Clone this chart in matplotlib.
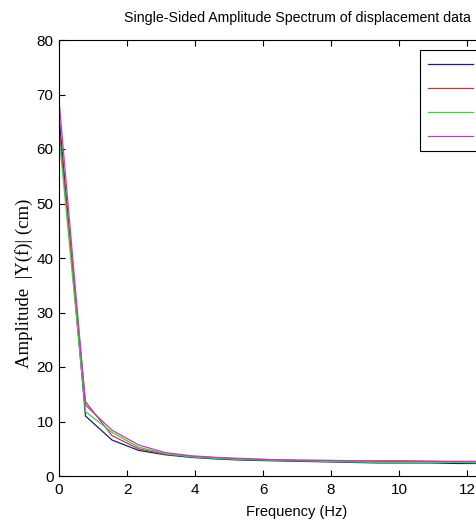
"""
Single-sided amplitude spectrum of the displacement records.
"""

import matplotlib
matplotlib.use("Agg")
import matplotlib.pyplot as plt


# -------------------------------------------------------
# Spectrum data
# -------------------------------------------------------

freq = [0.0, 0.78, 1.56, 2.34, 3.12, 3.91, 4.69, 5.47, 6.25, 7.03,
        7.81, 8.59, 9.38, 10.16, 10.94, 11.72, 12.50, 13.28, 14.06]

amp_1 = [66.0, 11.0, 6.6, 4.7, 3.9, 3.4, 3.1, 2.9, 2.8, 2.7,
         2.6, 2.5, 2.4, 2.4, 2.4, 2.3, 2.3, 2.3, 2.3]
amp_2 = [64.0, 13.6, 7.4, 5.0, 4.0, 3.6, 3.3, 3.1, 3.0, 2.9,
         2.8, 2.8, 2.7, 2.7, 2.7, 2.6, 2.6, 2.6, 2.6]
amp_3 = [62.5, 11.8, 8.0, 5.3, 4.1, 3.5, 3.2, 3.0, 2.9, 2.8,
         2.7, 2.6, 2.5, 2.5, 2.5, 2.5, 2.4, 2.4, 2.4]
amp_4 = [69.0, 13.0, 8.4, 5.7, 4.3, 3.7, 3.4, 3.2, 3.0, 2.9,
         2.9, 2.8, 2.8, 2.8, 2.7, 2.7, 2.7, 2.7, 2.7]

series_labels = ["Record 1", "Record 2", "Record 3", "Record 4"]
series_colors = ["#1c1c7a", "#c03a3a", "#3fd23f", "#c23cc2"]

x_ticks = [0, 2, 4, 6, 8, 10, 12]
y_ticks = [0, 10, 20, 30, 40, 50, 60, 70, 80]


# -------------------------------------------------------
# Plot
# -------------------------------------------------------

plt.rcParams["font.family"] = ["Liberation Sans", "DejaVu Sans"]

fig = plt.figure(figsize=(4.76, 5.22), dpi=100)
ax = fig.add_axes([59 / 476, 46 / 522, 476 / 476, 436 / 522])

for amp, label, color in zip([amp_1, amp_2, amp_3, amp_4], series_labels, series_colors):
    ax.plot(freq, amp, color=color, linewidth=0.9, label=label)

ax.set_xlim(0, 14)
ax.set_ylim(0, 80)
ax.set_xticks(x_ticks)
ax.set_yticks(y_ticks)
ax.tick_params(direction="in", length=4, width=0.8, labelsize=11,
               top=True, right=True, pad=4)
ax.tick_params(axis="x", pad=5)
for spine in ax.spines.values():
    spine.set_linewidth(0.8)

ax.set_title("Single-Sided Amplitude Spectrum of displacement data",
             fontsize=10.2, pad=13)
ax.set_xlabel("Frequency (Hz)", fontsize=10.5, labelpad=6)

# y label sits a little below the axes centre
fig.text(24 / 476, 1 - 283 / 522, "Amplitude  |Y(f)| (cm)", rotation=90,
         ha="center", va="center", fontsize=13.5,
         family=["Liberation Serif", "DejaVu Serif"])

# legend box runs past the right edge of the figure
leg = ax.legend(loc="upper left", bbox_to_anchor=(420 / 476, 1 - 50 / 522),
                bbox_transform=fig.transFigure, borderaxespad=0,
                fancybox=False, edgecolor="black", framealpha=1,
                fontsize=10, handlelength=3.3, labelspacing=0.72,
                borderpad=0.55, handletextpad=2.5)
leg.get_frame().set_linewidth(0.8)

fig.savefig("out.png", dpi=100)
